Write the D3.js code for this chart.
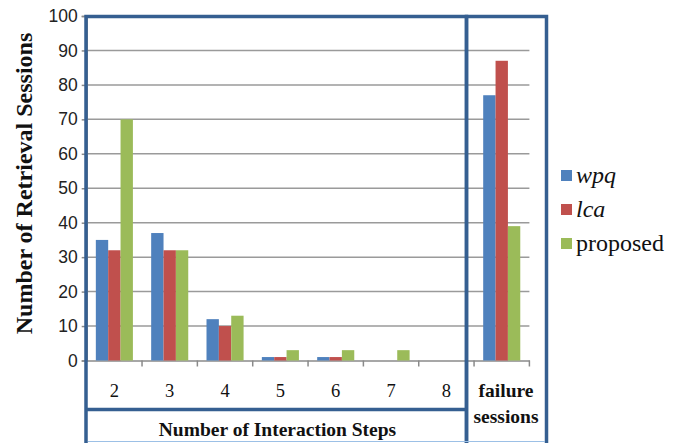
<!DOCTYPE html>
<html><head><meta charset="utf-8">
<script src="https://cdn.jsdelivr.net/npm/d3@7"></script>
<style>body{margin:0;background:#fff}svg{display:block}
.serif{font-family:"Liberation Serif"}
.sans{font-family:"Liberation Sans"}
</style>
</head><body><svg id="c" width="680" height="443"></svg>
<script>
const categories = ["2","3","4","5","6","7","8","failure"];
const seriesNames = ["wpq","lca","proposed"];
const wpq = [35,37,12,1,1,0,0,77];
const lca = [32,32,10,1,1,0,0,87];
const proposed = [70,32,13,3,3,3,0,39];
const yTicks = [0,10,20,30,40,50,60,70,80,90,100];
const colors = ["#4f81bd","#c0504d","#9bbb59"];
const values = [wpq, lca, proposed];

const svg = d3.select("#c");
const x0 = 86.7, x1 = 529.4, yTop = 16, yBot = 360.5;
const x = d3.scaleBand().domain(categories).range([x0, x1]).paddingInner(0.33).paddingOuter(0.165);
const xb = d3.scaleBand().domain(categories).range([x0, x1]);
const xs = d3.scaleBand().domain(seriesNames).range([0, x.bandwidth()]);
const y = d3.scaleLinear().domain([0,100]).range([yBot, yTop]);

// gridlines
svg.append("g").selectAll("line").data(yTicks.filter(d=>d>0)).join("line")
  .attr("x1", x0).attr("x2", x1).attr("y1", d=>y(d)).attr("y2", d=>y(d))
  .attr("stroke", "#9a9a9a").attr("stroke-width", 1.5);

// y axis
const ya = svg.append("g").attr("transform", `translate(${x0},0)`)
  .call(d3.axisLeft(y).tickValues(yTicks).tickSize(5).tickPadding(4));
ya.attr("font-family", null);
ya.select(".domain").attr("stroke","#8a8a8a").attr("stroke-width",1.5);
ya.selectAll(".tick line").attr("stroke","#8a8a8a").attr("stroke-width",1.5);
ya.selectAll("text").attr("class","sans").attr("font-size",17.5).attr("fill","#222");

// x axis baseline and ticks
const xa = svg.append("g").attr("transform", `translate(0,${yBot})`)
  .call(d3.axisBottom(xb).tickSize(0).tickFormat(""));
xa.select(".domain").attr("stroke","#8a8a8a").attr("stroke-width",1.5);
svg.append("g").selectAll("line").data(categories.slice(1).concat(["__end"])).join("line")
  .attr("x1", d => d==="__end" ? x1 : xb(d)).attr("x2", d => d==="__end" ? x1 : xb(d))
  .attr("y1", yBot).attr("y2", yBot+6).attr("stroke","#8a8a8a").attr("stroke-width",1.5);

// bars
const g = svg.append("g");
seriesNames.forEach((s, si) => {
  g.append("g").selectAll("rect").data(categories.map((c,i)=>({c, v: values[si][i]}))).join("rect")
    .attr("x", d => x(d.c) + xs(s)).attr("width", xs.bandwidth())
    .attr("y", d => y(d.v)).attr("height", d => yBot - y(d.v))
    .attr("fill", colors[si]);
});

// category labels
svg.append("g").selectAll("text").data(categories.slice(0,7)).join("text")
  .attr("class","serif")
  .attr("x", d => xb(d) + xb.bandwidth()/2).attr("y", 397)
  .attr("text-anchor","middle")
  .attr("font-size",18.5).attr("fill","#111").text(d=>d);
const fx = 506;
const ft = svg.append("text").attr("class","serif").attr("text-anchor","middle")
  .attr("font-weight","bold").attr("font-size",19.5).attr("fill","#111");
ft.append("tspan").attr("x", fx).attr("y", 397).text("failure");
ft.append("tspan").attr("x", fx).attr("y", 423).text("sessions");

// boxes
const bc = "#355f91";
const box = svg.append("g").attr("fill","none").attr("stroke",bc).attr("stroke-width",3.5);
box.append("rect").attr("x",86).attr("y",16.5).attr("width",380.5).attr("height",440);
box.append("rect").attr("x",466.5).attr("y",16.5).attr("width",80).attr("height",440);
box.append("line").attr("x1",86).attr("x2",466.5).attr("y1",409.5).attr("y2",409.5);
svg.append("line").attr("x1",88).attr("x2",545).attr("y1",441.5).attr("y2",441.5).attr("stroke","#9cc0e6").attr("stroke-width",1);

svg.append("text").attr("class","serif").attr("x", 277.5).attr("y", 436).attr("text-anchor","middle")
  .attr("font-weight","bold")
  .attr("font-size",19.5).attr("fill","#111").text("Number of Interaction Steps");

// y title
svg.append("text").attr("class","serif").attr("transform","translate(32,183.5) rotate(-90)").attr("text-anchor","middle")
  .attr("font-weight","bold")
  .attr("font-size",24).attr("fill","#111").text("Number of Retrieval Sessions");

// legend
const lg = svg.append("g");
seriesNames.forEach((s,i) => {
  const by = 183 + i*34;
  lg.append("rect").attr("x",561).attr("y",by-13).attr("width",11).attr("height",11).attr("fill",colors[i]);
  lg.append("text").attr("class","serif").attr("x",576).attr("y",by)
    .attr("font-size",24).attr("font-style", i<2 ? "italic":"normal").attr("fill","#111").text(s);
});
</script></body></html>
